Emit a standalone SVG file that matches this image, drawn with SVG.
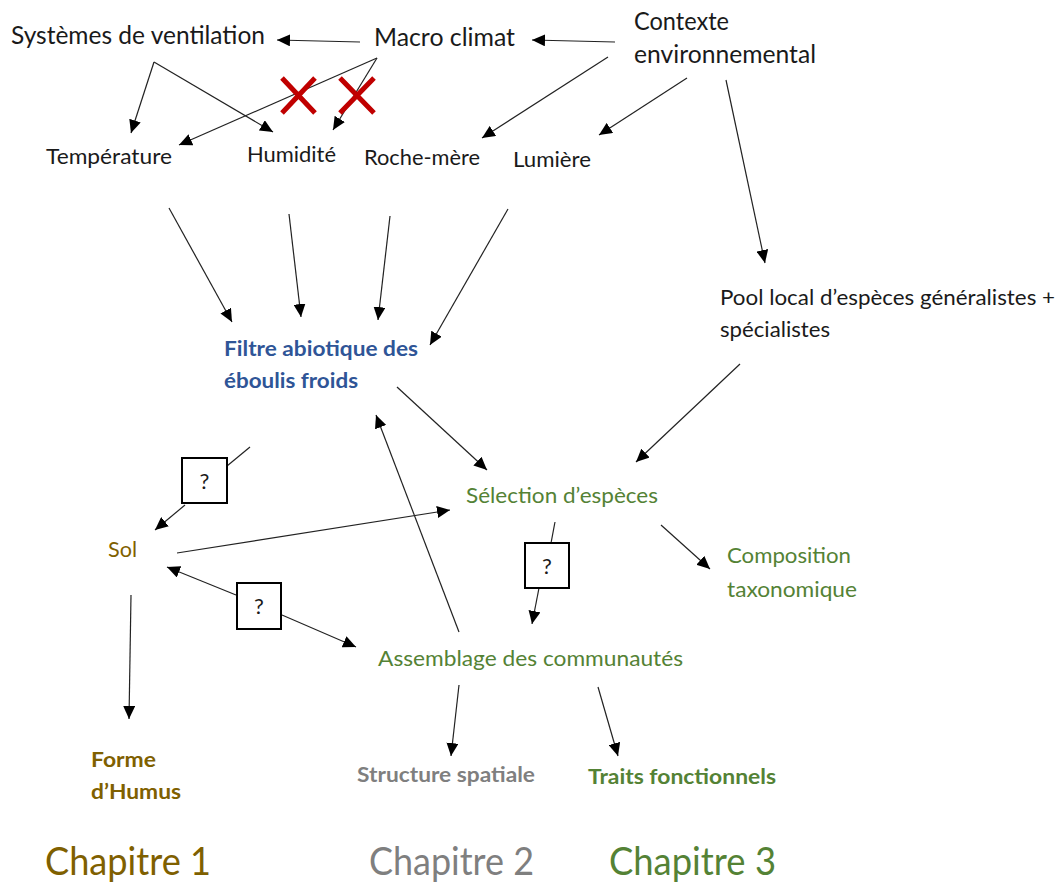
<svg xmlns="http://www.w3.org/2000/svg" width="1064" height="884" viewBox="0 0 1064 884">
<defs>
<marker id="ah" markerUnits="userSpaceOnUse" markerWidth="14" markerHeight="12" refX="13" refY="6" orient="auto">
<path d="M0,0 L13,6 L0,12 z" fill="#000"/>
</marker>
<style>
text{font-family:Lato,"Liberation Sans",sans-serif;}
.k{fill:#1a1a1a;font-size:24.5px;}
.s{fill:#1a1a1a;font-size:21px;}
.b{fill:#2f5597;font-size:21px;font-weight:bold;}
.g{fill:#548235;font-size:21px;}
.br{fill:#7f6000;font-size:21px;}
.bb{fill:#7f6000;font-size:21px;font-weight:bold;}
.gb{fill:#548235;font-size:21px;font-weight:bold;}
.yb{fill:#7f7f7f;font-size:21px;font-weight:bold;}
.ch{font-size:39px;}
.q{fill:#1a1a1a;font-size:22px;text-anchor:middle;}
.c line{stroke:#222;stroke-width:1.2;}
.a{marker-end:url(#ah);}
.box{fill:#fff;stroke:#000;stroke-width:2;}
.x{stroke:#c00000;stroke-width:5;}
</style>
</defs>
<rect width="1064" height="884" fill="#fff"/>
<g id="connectors" class="c">
<line class="a" x1="360" y1="42" x2="277" y2="40"/>
<line class="a" x1="615" y1="42" x2="532" y2="40"/>
<line class="a" x1="154" y1="62" x2="131" y2="133"/>
<line class="a" x1="154" y1="62" x2="273" y2="132"/>
<line class="a" x1="377" y1="58" x2="179" y2="145"/>
<line class="a" x1="377" y1="58" x2="333" y2="130"/>
<line class="a" x1="608" y1="57" x2="482" y2="138"/>
<line class="a" x1="687" y1="78" x2="599" y2="135"/>
<line class="a" x1="726" y1="80" x2="765" y2="263"/>
<line class="a" x1="169" y1="208" x2="232" y2="322"/>
<line class="a" x1="289" y1="214" x2="301" y2="317"/>
<line class="a" x1="390" y1="216" x2="378" y2="320"/>
<line class="a" x1="508" y1="209" x2="430" y2="345"/>
<line class="a" x1="397" y1="387" x2="487" y2="470"/>
<line class="a" x1="740" y1="364" x2="636" y2="462"/>
<line class="a" x1="459" y1="632" x2="376" y2="415"/>
<line x1="250" y1="447" x2="227" y2="466"/>
<line class="a" x1="185" y1="505" x2="155" y2="530"/>
<line class="a" x1="177" y1="553" x2="450" y2="510"/>
<line class="a" x1="236" y1="595" x2="167" y2="567"/>
<line class="a" x1="282" y1="615" x2="356" y2="647"/>
<line x1="555" y1="522" x2="551" y2="543"/>
<line class="a" x1="539" y1="588" x2="532" y2="624"/>
<line class="a" x1="661" y1="525" x2="710" y2="569"/>
<line class="a" x1="131" y1="595" x2="129" y2="719"/>
<line class="a" x1="459" y1="685" x2="451" y2="756"/>
<line class="a" x1="598" y1="687" x2="618" y2="756"/>
</g>
<g id="crosses">
<path class="x" d="M282,78 L315,113 M315,78 L282,113"/>
<path class="x" d="M340,78 L374,113 M374,78 L340,113"/>
</g>
<g id="n-systemes"><text class="k" x="11" y="44" textLength="254" lengthAdjust="spacingAndGlyphs">Systèmes de ventilation</text></g>
<g id="n-macro"><text class="k" x="374" y="46" textLength="141" lengthAdjust="spacingAndGlyphs">Macro climat</text></g>
<g id="n-contexte"><text class="k" x="634" y="30" textLength="95" lengthAdjust="spacingAndGlyphs">Contexte</text><text class="k" x="634" y="63" textLength="182" lengthAdjust="spacingAndGlyphs">environnemental</text></g>
<g id="n-temperature"><text class="s" x="46" y="164" textLength="126" lengthAdjust="spacingAndGlyphs">Température</text></g>
<g id="n-humidite"><text class="s" x="247" y="162" textLength="89" lengthAdjust="spacingAndGlyphs">Humidité</text></g>
<g id="n-roche"><text class="s" x="364" y="165" textLength="116" lengthAdjust="spacingAndGlyphs">Roche-mère</text></g>
<g id="n-lumiere"><text class="s" x="513" y="167" textLength="78" lengthAdjust="spacingAndGlyphs">Lumière</text></g>
<g id="n-pool"><text class="s" x="720" y="305" textLength="335" lengthAdjust="spacingAndGlyphs">Pool local d’espèces généralistes +</text><text class="s" x="720" y="337" textLength="110" lengthAdjust="spacingAndGlyphs">spécialistes</text></g>
<g id="n-filtre"><text class="b" x="224" y="356" textLength="194" lengthAdjust="spacingAndGlyphs">Filtre abiotique des</text><text class="b" x="224" y="388" textLength="134" lengthAdjust="spacingAndGlyphs">éboulis froids</text></g>
<g id="n-selection"><text class="g" x="466" y="503" textLength="192" lengthAdjust="spacingAndGlyphs">Sélection d’espèces</text></g>
<g id="n-sol"><text class="br" x="108" y="557" textLength="29" lengthAdjust="spacingAndGlyphs">Sol</text></g>
<g id="n-composition"><text class="g" x="727" y="563" textLength="124" lengthAdjust="spacingAndGlyphs">Composition</text><text class="g" x="727" y="597" textLength="130" lengthAdjust="spacingAndGlyphs">taxonomique</text></g>
<g id="n-assemblage"><text class="g" x="378" y="666" textLength="305" lengthAdjust="spacingAndGlyphs">Assemblage des communautés</text></g>
<g id="n-forme"><text class="bb" x="91" y="767" textLength="65" lengthAdjust="spacingAndGlyphs">Forme</text><text class="bb" x="91" y="799" textLength="90" lengthAdjust="spacingAndGlyphs">d’Humus</text></g>
<g id="n-structure"><text class="yb" x="357" y="782" textLength="178" lengthAdjust="spacingAndGlyphs">Structure spatiale</text></g>
<g id="n-traits"><text class="gb" x="588" y="784" textLength="188" lengthAdjust="spacingAndGlyphs">Traits fonctionnels</text></g>
<g id="q1"><rect class="box" x="182" y="458" width="45" height="45"/><text class="q" x="204.5" y="489">?</text></g>
<g id="q2"><rect class="box" x="237" y="583" width="44" height="46"/><text class="q" x="259" y="614">?</text></g>
<g id="q3"><rect class="box" x="525" y="543" width="44" height="45"/><text class="q" x="547" y="574">?</text></g>
<g id="chapitres">
<text class="ch" x="45" y="875" fill="#7f6000" textLength="166" lengthAdjust="spacingAndGlyphs">Chapitre 1</text>
<text class="ch" x="369" y="875" fill="#7f7f7f" textLength="165" lengthAdjust="spacingAndGlyphs">Chapitre 2</text>
<text class="ch" x="609" y="875" fill="#548235" textLength="167" lengthAdjust="spacingAndGlyphs">Chapitre 3</text>
</g>
</svg>
